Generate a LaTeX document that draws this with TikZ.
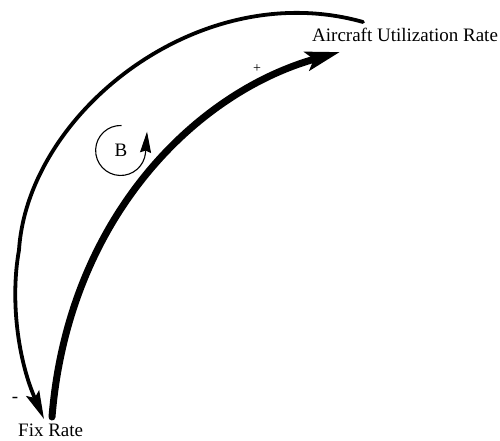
\documentclass[tikz,border=0pt]{standalone}
\usepackage{fontspec}
\setmainfont{Liberation Serif}
\usetikzlibrary{arrows.meta}
\begin{document}
\begin{tikzpicture}[x=1pt,y=1pt,
  lbl/.style={font=\fontsize{19}{22}\selectfont, inner sep=0pt},
  sgn/.style={font=\fontsize{14}{16}\selectfont, inner sep=0pt},
  thinlink/.style={line width=3.8pt, line cap=round, -{Stealth[length=28pt,width=14pt,inset=5pt]}},
  thicklink/.style={line width=7pt, line cap=round, -{Stealth[length=34pt,width=19pt,inset=7pt]}},
  loopline/.style={line width=1.1pt, -{Stealth[length=21pt,width=11pt,inset=2pt]}}]
\useasboundingbox (0,0) rectangle (500,-441);
\node[lbl, anchor=base west] (aur) at (312,-42) {Aircraft Utilization Rate};
\node[lbl, anchor=base west] (fix) at (18,-436.5) {Fix Rate};
\node[lbl] (b) at (121,-150) {B};
\node[sgn] (plus) at (257,-69) {+};
\node[lbl] (minus) at (15,-400) {-};
\coordinate (outerS) at (363,-22);
\coordinate (outerM) at (19,-250);
\coordinate (outerE) at (44,-419);
\coordinate (innerS) at (52,-417);
\coordinate (innerE) at (340,-52);
\draw[thinlink] (outerS) .. controls (200,24) and (28,-112) .. (outerM)
  .. controls (10,-300) and (18,-360) .. (outerE);
\draw[thicklink] (innerS) .. controls (68,-218) and (196,-92) .. (innerE);
\draw[loopline] (b) ++(0.5,24.5) arc[start angle=88, end angle=355, radius=25] -- ++(1.5,21);
\end{tikzpicture}
\end{document}
